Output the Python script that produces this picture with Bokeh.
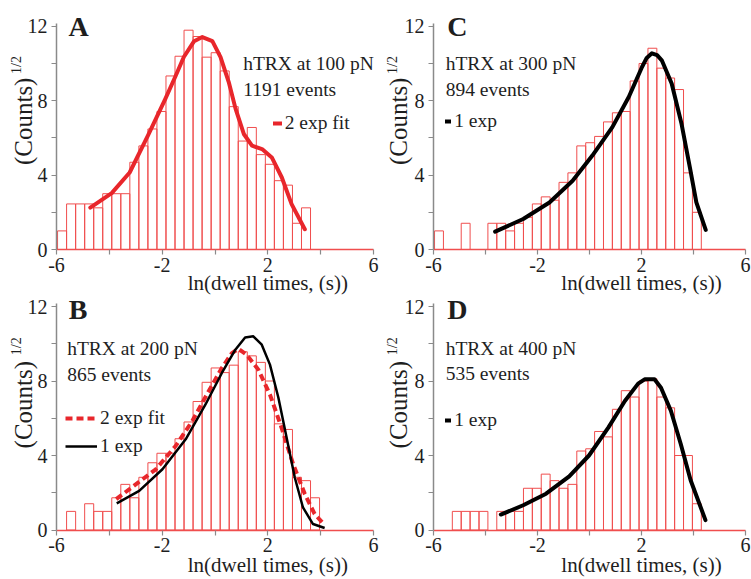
from bokeh.plotting import figure
from bokeh.layouts import column, row
from bokeh.models import Range1d, FixedTicker, Label, Legend, LegendItem, LinearAxis
from bokeh.embed import file_html
from bokeh.resources import INLINE

# ---------------- data ----------------
BIN_START = -5.96          # left edge of histogram bin 0, ln(s)
BIN_WIDTH = 0.342          # histogram bin width, ln(s)

# sqrt(counts) per bin; *_FIRST_BIN = index of the first listed bin
A_FIRST_BIN = 0
A_HEIGHTS = [1.0, 2.45, 2.45, 2.45, 2.24, 3.0, 3.0, 3.0, 4.69, 5.57, 6.48, 7.42, 9.33, 10.39,
             11.79, 11.45, 10.34, 10.58, 9.6, 7.68, 5.83, 6.56, 5.1, 4.58, 3.7, 3.46, 1.41, 2.24]
C_FIRST_BIN = 0
C_HEIGHTS = [1.0, 0, 0, 1.41, 0, 0, 1.41, 1.41, 1.0, 1.41, 1.73, 2.45, 2.83, 2.65, 3.61, 4.12,
             5.57, 5.74, 6.08, 6.86, 7.35, 7.42, 9.06, 10.0, 10.82, 9.75, 9.22, 8.6, 4.12, 2.0]
B_FIRST_BIN = 1
B_HEIGHTS = [1.0, 0, 1.41, 1.0, 1.0, 1.73, 2.45, 1.73, 2.83, 3.61, 4.12, 4.12, 4.9, 5.8, 6.9,
             7.93, 8.7, 8.45, 8.85, 9.57, 9.35, 9.0, 8.0, 5.7, 5.4, 2.83, 2.65, 1.73]
D_FIRST_BIN = 2
D_HEIGHTS = [1.0, 1.0, 1.0, 1.0, 0, 1.0, 1.0, 1.0, 2.24, 2.24, 3.0, 2.65, 2.24, 2.45, 4.24, 4.36,
             5.29, 5.0, 6.48, 7.48, 7.14, 8.0, 8.12, 7.14, 6.56, 4.0, 4.0, 1.41]

A_FIT_X = [-4.72, -3.91, -3.23, -2.54, -1.88, -1.5, -1.18, -0.79, -0.48, -0.10, 0.21, 0.52,
           0.78, 1.09, 1.40, 1.78, 2.15, 2.53, 2.90, 3.40]
A_FIT_Y = [2.25, 3.03, 4.14, 6.12, 8.1, 9.3, 10.35, 11.2, 11.42, 11.2, 10.34, 9.0,
           7.56, 6.21, 5.58, 5.4, 4.95, 3.87, 2.44, 1.09]

C_FIT_X = [-3.63, -2.55, -1.54, -0.65, 0.11, 0.88, 1.51, 2.02, 2.2, 2.4, 2.6, 2.78, 3.16,
           3.54, 3.86, 4.11, 4.47]
C_FIT_Y = [0.96, 1.64, 2.53, 3.7, 5.05, 6.58, 8.2, 9.81, 10.3, 10.55, 10.45, 10.17, 8.92,
           6.76, 4.42, 2.53, 1.05]

B_FIT2_X = [-3.74, -3.12, -2.24, -1.49, -0.86, -0.24, 0.26, 0.64, 0.89, 1.2, 1.64, 2.08,
            2.52, 2.96, 3.4, 3.77, 4.09]
B_FIT2_Y = [1.66, 2.32, 3.26, 4.51, 5.85, 7.45, 8.7, 9.5, 9.73, 9.41, 8.61, 7.27,
            5.49, 3.53, 1.93, 0.86, 0.36]
B_FIT1_X = [-3.72, -2.87, -1.99, -1.11, -0.36, 0.26, 0.77, 1.14, 1.45, 1.77, 2.08, 2.4,
            2.71, 3.02, 3.33, 3.71, 4.15]
B_FIT1_Y = [1.43, 2.1, 3.26, 4.87, 6.74, 8.43, 9.68, 10.34, 10.4, 9.95, 8.88, 7.1,
            4.96, 2.82, 1.21, 0.32, 0.11]

D_FIT_X = [-3.41, -2.55, -1.67, -0.78, -0.02, 0.73, 1.36, 1.87, 2.12, 2.5, 2.75, 3.13,
           3.51, 3.89, 4.46]
D_FIT_Y = [0.83, 1.33, 1.95, 2.88, 4.0, 5.51, 6.93, 7.86, 8.09, 8.09, 7.64, 6.4,
           4.62, 2.67, 0.53]

X_MIN, X_MAX = -6, 6
Y_MIN, Y_MAX = 0, 12.15
X_MAJOR = [-6, -2, 2, 6]
X_MINOR = [-4, 0, 4]
X_LABELS = {-6: "-6", -2: "-2", 2: "2", 6: "6"}
Y_MAJOR = [0, 4, 8, 12]
Y_MINOR = [2, 6, 10]
Y_LABELS = {0: "0", 4: "4", 8: "8", 12: "12"}

PANEL_LETTERS = ["A", "C", "B", "D"]
PANEL_TITLES = ["hTRX at 100 pN", "hTRX at 300 pN", "hTRX at 200 pN", "hTRX at 400 pN"]
PANEL_EVENTS = ["1191 events", "894 events", "865 events", "535 events"]
X_TITLE = "ln(dwell times, (s))"
Y_TITLE = "(Counts)"
Y_TITLE_SUP = "1/2"

# ---------------- styling / layout ----------------
FONT = "Liberation Serif"
BAR_RED = "#f04e4e"
FIT_RED = "#e8262b"
AXIS_GRAY = "#8a8a8a"
TEXT = "#1e1e1e"
TXT_PX = 19.5
LETTER_PX = 28
XT_PX = 21
YT_PX = 25
SUP_PX = 14
BASE_FIX = 0.4     # rendered alphabetic baseline sits ~0.4 em lower than the anchor

# canvas geometry in page pixels: left, top, width, height, px of x=-6, px per x unit, px of y=0, px per y unit
GEO = {
    "A": dict(cl=0, ct=0, cw=383, ch=295, x0=56, sx=317 / 12, y0=249, sy=226 / 12.15),
    "C": dict(cl=383, ct=0, cw=368, ch=295, x0=433, sx=312 / 12, y0=249, sy=226 / 12.15),
    "B": dict(cl=0, ct=295, cw=383, ch=284, x0=56, sx=317 / 12, y0=529.5, sy=223.5 / 12),
    "D": dict(cl=383, ct=295, cw=368, ch=284, x0=433, sx=312 / 12, y0=529.5, sy=223.5 / 12),
}


def make_panel(g):
    xs = X_MIN - (g["x0"] - g["cl"]) / g["sx"]
    ys = Y_MIN - (g["ct"] + g["ch"] - g["y0"]) / g["sy"]
    p = figure(width=g["cw"], height=g["ch"],
               x_range=Range1d(xs, xs + g["cw"] / g["sx"]),
               y_range=Range1d(ys, ys + g["ch"] / g["sy"]),
               output_backend="svg", toolbar_location=None,
               x_axis_location=None, y_axis_location=None, min_border=0)
    p.outline_line_color = None
    p.xgrid.visible = False
    p.ygrid.visible = False
    p.background_fill_color = "white"
    p.border_fill_color = "white"
    xa = LinearAxis(fixed_location=Y_MIN, bounds=(X_MIN, X_MAX),
                    ticker=FixedTicker(ticks=X_MAJOR, minor_ticks=X_MINOR),
                    major_label_overrides=X_LABELS)
    ya = LinearAxis(fixed_location=X_MIN, bounds=(Y_MIN, Y_MAX),
                    ticker=FixedTicker(ticks=Y_MAJOR, minor_ticks=Y_MINOR),
                    major_label_overrides=Y_LABELS)
    for ax in (xa, ya):
        ax.axis_line_width = 1.5
        ax.major_tick_line_color = AXIS_GRAY
        ax.minor_tick_line_color = AXIS_GRAY
        ax.major_tick_line_width = 1.2
        ax.minor_tick_line_width = 1.2
        ax.major_tick_out = 5
        ax.major_tick_in = 0
        ax.minor_tick_out = 5
        ax.minor_tick_in = 0
        ax.major_label_text_font = FONT
        ax.major_label_text_font_size = "20px"
        ax.major_label_text_color = TEXT
    xa.axis_line_color = BAR_RED
    ya.axis_line_color = AXIS_GRAY
    xa.major_label_standoff = 3
    ya.major_label_standoff = 4
    p.add_layout(ya, "left")
    p.add_layout(xa, "below")
    return p


def add_hist(p, first_bin, heights):
    lefts, rights, tops = [], [], []
    for i, h in enumerate(heights):
        if h > 0:
            k = first_bin + i
            lefts.append(BIN_START + k * BIN_WIDTH)
            rights.append(BIN_START + (k + 1) * BIN_WIDTH)
            tops.append(h)
    p.quad(left=lefts, right=rights, bottom=0, top=tops, fill_color=None,
           line_color=BAR_RED, line_width=1)


def add_texts(p, g, letter, title, events, wx_letter, wy_letter, wx_text, wy_title, wy_events,
              wy_xtitle, wx_ylab, wy_ylab, wy_sup):
    def dx(wx):
        return X_MIN + (wx - g["x0"]) / g["sx"]

    def dy(wy):
        return Y_MIN + (g["y0"] - wy) / g["sy"]

    def text(wx, wy_base, s, px, **kw):
        p.add_layout(Label(x=dx(wx), y=dy(wy_base - BASE_FIX * px), text=s,
                           text_font_size=f"{px}px", text_baseline="alphabetic",
                           text_font=FONT, text_color=TEXT, **kw))

    def vtext(wx_center, wy_center, s, px):
        p.add_layout(Label(x=dx(wx_center), y=dy(wy_center), text=s,
                           text_font_size=f"{px}px", angle=90, angle_units="deg",
                           text_align="center", text_baseline="middle",
                           text_font=FONT, text_color=TEXT))

    text(wx_letter, wy_letter, letter, LETTER_PX, text_font_style="bold", text_align="left")
    text(wx_text, wy_title, title, TXT_PX, text_align="left")
    text(wx_text, wy_events, events, TXT_PX, text_align="left")
    p.add_layout(Label(x=2.0, y=dy(wy_xtitle - BASE_FIX * XT_PX), text=X_TITLE,
                       text_font_size=f"{XT_PX}px", text_align="center", text_baseline="alphabetic",
                       text_font=FONT, text_color=TEXT))
    vtext(wx_ylab, wy_ylab, Y_TITLE, YT_PX)
    vtext(wx_ylab - 6.5, wy_sup, Y_TITLE_SUP, SUP_PX)


def add_legend(p, g, items, wx_swatch, wy_last_row, glyph_w):
    loc = (wx_swatch - g["cl"], g["ct"] + g["ch"] - (wy_last_row + 10.5))
    leg = Legend(items=items, location=loc, orientation="vertical", glyph_width=glyph_w,
                 glyph_height=20, label_height=20, label_standoff=3, padding=0, margin=0, spacing=6,
                 border_line_alpha=0, background_fill_alpha=0, label_text_font=FONT,
                 label_text_font_size=f"{TXT_PX}px", label_text_color=TEXT)
    p.add_layout(leg)


# ---------------- panels ----------------
pa = make_panel(GEO["A"])
pc = make_panel(GEO["C"])
pb = make_panel(GEO["B"])
pd = make_panel(GEO["D"])

# A
add_hist(pa, A_FIRST_BIN, A_HEIGHTS)
ra = pa.line(A_FIT_X, A_FIT_Y, line_color=FIT_RED, line_width=4, line_join="round", line_cap="round")
add_texts(pa, GEO["A"], PANEL_LETTERS[0], PANEL_TITLES[0], PANEL_EVENTS[0],
          68, 37, 242.7, 70.5, 96.5, 290.5, 22.8, 120.8, 64.5)
add_legend(pa, GEO["A"], [LegendItem(label="2 exp fit", renderers=[ra])], 272.7, 123.3, 9)

# C
add_hist(pc, C_FIRST_BIN, C_HEIGHTS)
rc = pc.line(C_FIT_X, C_FIT_Y, line_color="black", line_width=4, line_join="round", line_cap="round")
add_texts(pc, GEO["C"], PANEL_LETTERS[1], PANEL_TITLES[1], PANEL_EVENTS[1],
          446.7, 36.7, 445.2, 70.5, 96.5, 290.5, 398.0, 120.8, 64.5)
add_legend(pc, GEO["C"], [LegendItem(label="1 exp", renderers=[rc])], 445.2, 121.7, 6)

# B
add_hist(pb, B_FIRST_BIN, B_HEIGHTS)
rb2 = pb.line(B_FIT2_X, B_FIT2_Y, line_color=FIT_RED, line_width=4, line_dash="7 4")
rb1 = pb.line(B_FIT1_X, B_FIT1_Y, line_color="black", line_width=2.5, line_join="round")
add_texts(pb, GEO["B"], PANEL_LETTERS[2], PANEL_TITLES[2], PANEL_EVENTS[2],
          68.3, 320, 66.7, 355.7, 381.7, 573, 22.8, 404.2, 345.8)
add_legend(pb, GEO["B"], [LegendItem(label="2 exp fit", renderers=[rb2]),
                          LegendItem(label="1 exp", renderers=[rb1])], 65, 446.7, 32)

# D
add_hist(pd, D_FIRST_BIN, D_HEIGHTS)
rd = pd.line(D_FIT_X, D_FIT_Y, line_color="black", line_width=4, line_join="round", line_cap="round")
add_texts(pd, GEO["D"], PANEL_LETTERS[3], PANEL_TITLES[3], PANEL_EVENTS[3],
          446.7, 320, 445.2, 355.7, 381, 573, 398.0, 404.2, 345.8)
add_legend(pd, GEO["D"], [LegendItem(label="1 exp", renderers=[rd])], 445.2, 420, 6)

layout = column(row(pa, pc), row(pb, pd))
open("out.html", "w").write(file_html(layout, INLINE))
